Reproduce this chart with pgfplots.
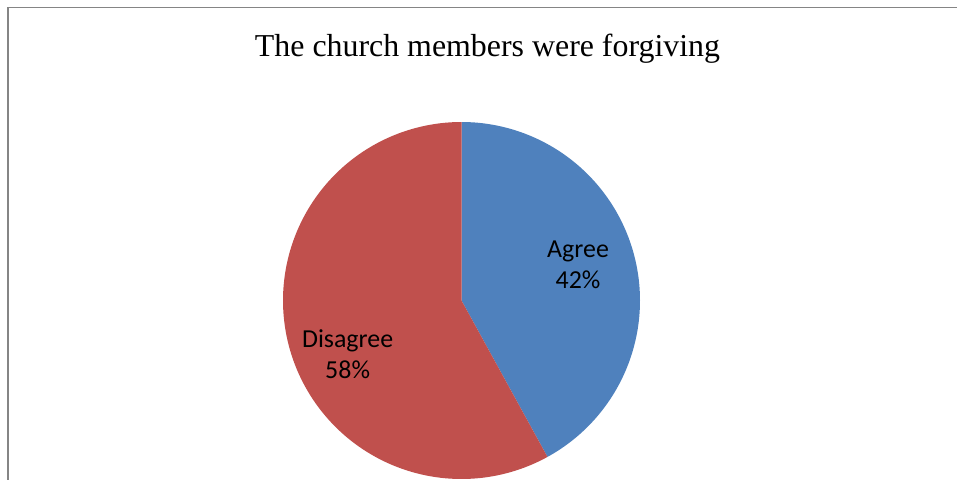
\documentclass[border=0pt]{standalone}
\usepackage{pgfplots}
\pgfplotsset{compat=1.18}
\usepackage{pgfplotstable}
\usepackage{fontspec}
\setmainfont{Liberation Serif}
\newfontfamily\lblfont{Carlito}
\definecolor{pieblue}{HTML}{4F81BD}
\definecolor{piered}{HTML}{C0504D}
\definecolor{framegray}{HTML}{858585}

\pgfplotstableread{
label value
Agree 42
Disagree 58
}\piedata

\begin{document}
\begin{tikzpicture}
\useasboundingbox (0bp,0bp) rectangle (957bp,480bp);
\draw[framegray, line width=1.4bp] (8bp,-2bp) -- (8bp,472.5bp) -- (960bp,472.5bp);
\node[anchor=base, font=\fontsize{32}{38}\selectfont] at (487.5bp,423.5bp) {The church members were forgiving};
\pgfplotstablegetelem{0}{value}\of\piedata \let\vA\pgfplotsretval
\pgfplotstablegetelem{1}{value}\of\piedata \let\vB\pgfplotsretval
\pgfmathsetmacro{\aEnd}{90-3.6*\vA}
\pgfmathsetmacro{\bEnd}{\aEnd-3.6*\vB}
\begin{axis}[
  at={(461.5bp,179.5bp)}, anchor=center,
  scale only axis, width=357bp, height=357bp,
  xmin=-1, xmax=1, ymin=-1, ymax=1,
  hide axis, clip=false,
]
\addplot[fill=pieblue, draw=none, domain=\aEnd:90, samples=181, variable=\t]
  ({cos(t)},{sin(t)}) -- (axis cs:0,0) -- cycle;
\addplot[fill=piered, draw=none, domain=\bEnd:\aEnd, samples=241, variable=\t]
  ({cos(t)},{sin(t)}) -- (axis cs:0,0) -- cycle;
\node[anchor=base, font=\lblfont\fontsize{26}{30}\selectfont] at (axis cs:0.653,0.241) {Agree};
\node[anchor=base, font=\lblfont\fontsize{26}{30}\selectfont] at (axis cs:0.653,0.068) {\vA\%};
\node[anchor=base, font=\lblfont\fontsize{26}{30}\selectfont] at (axis cs:-0.638,-0.264) {Disagree};
\node[anchor=base, font=\lblfont\fontsize{26}{30}\selectfont] at (axis cs:-0.638,-0.437) {\vB\%};
\end{axis}
\end{tikzpicture}
\end{document}
